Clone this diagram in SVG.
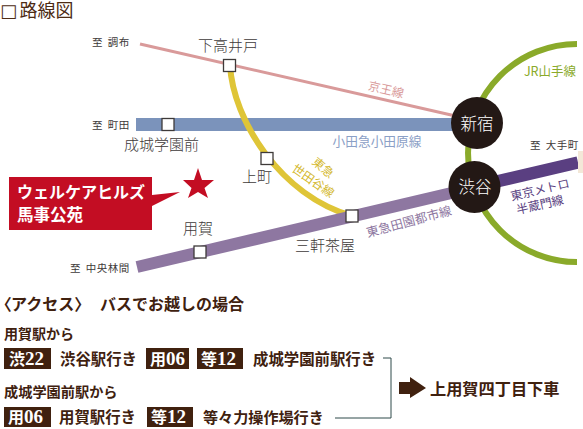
<svg xmlns="http://www.w3.org/2000/svg" width="583" height="429" viewBox="0 0 583 429">
<style>
text{font-family:"Noto Sans CJK JP",sans-serif}
.st{fill:#fff;stroke:#3e3a39;stroke-width:1.3}
.hub{fill:#231815}
.nm{font-size:15px;fill:#3e3a39;font-weight:300}
.to{font-size:10.500px;fill:#3e3a39;letter-spacing:.5px;word-spacing:2px}
.ln{font-size:12px;font-weight:400;text-anchor:middle}
.hb{font-size:16.500px;fill:#fff;font-weight:300;text-anchor:middle}
.b{fill:#40210f}
.bt{font-size:16px;fill:#fff;font-weight:700}
.bt tspan{font-family:"Liberation Serif",serif;font-size:19px}
.d{font-size:15.400px;fill:#40210f;font-weight:700}
.h{fill:#40210f;font-weight:700}
</style>
<text x="0" y="17" font-size="18" fill="#4d2b14" style="font-family:'DejaVu Sans','Noto Sans CJK JP',sans-serif">□<tspan dx="2.500">路線図</tspan></text>

<g id="connectors" fill="none">
<path d="M577,44A109,109 0 0 0 577,262" stroke="#8aaa2a" stroke-width="6"/>
<path d="M140,44L460,117" stroke="#d99a9a" stroke-width="3"/>
<path d="M136,124.500H460" stroke="#7b93bb" stroke-width="13"/>
<path d="M230,65C233,120 280,195 352,216" stroke="#dfc537" stroke-width="6"/>
<path d="M137,267L460,191" stroke="#8e77a1" stroke-width="12"/>
<path d="M490,183L578,162.500" stroke="#5a3f81" stroke-width="12.500"/>
<rect x="578" y="151" width="5" height="22" fill="#f3e8d8"/>
<path d="M383,358H391V418H335" stroke="#2f4a4a" stroke-width="1"/>
</g>

<g id="line-labels">
<text class="ln" x="386" y="94" fill="#d99a9a" transform="rotate(13 386 90)">京王線</text>
<text class="ln" x="377" y="146" fill="#8ba0c6" style="font-size:12.700px">小田急小田原線</text>
<text class="ln" x="550" y="76" fill="#8aaa2a" style="font-size:12.500px">JR山手線</text>
<text class="ln" x="323" y="172" fill="#d4b92f" transform="rotate(40 323 168)">東急</text>
<text class="ln" x="313" y="185" fill="#d4b92f" transform="rotate(35 313 181)">世田谷線</text>
<text class="ln" x="409" y="226" fill="#8e77a1" style="font-size:12.500px" transform="rotate(-15 409 222)">東急田園都市線</text>
<text class="ln" x="540" y="194" fill="#5a3f81" transform="rotate(-13 540 190)">東京メトロ</text>
<text class="ln" x="540" y="209" fill="#5a3f81" transform="rotate(-13 540 205)">半蔵門線</text>
</g>

<g id="dest-labels">
<text class="to" x="92" y="46">至 調布</text>
<text class="to" x="92" y="129">至 町田</text>
<text class="to" x="70" y="272">至 中央林間</text>
<text class="to" x="530" y="149">至 大手町</text>
</g>

<g id="st-shimotakaido"><rect class="st" x="223.500" y="59.500" width="12" height="12"/><text class="nm" x="198" y="51">下高井戸</text></g>
<g id="st-seijo"><rect class="st" x="162" y="118.500" width="12" height="12"/><text class="nm" x="124" y="150">成城学園前</text></g>
<g id="st-kamimachi"><rect class="st" x="261" y="152.500" width="12" height="12"/><text class="nm" x="242" y="182">上町</text></g>
<g id="st-sangenjaya"><rect class="st" x="346" y="210" width="12" height="12"/><text class="nm" x="295" y="251">三軒茶屋</text></g>
<g id="st-yoga"><rect class="st" x="194" y="246" width="12" height="12"/><text class="nm" x="183" y="234">用賀</text></g>
<g id="st-shinjuku"><circle class="hub" cx="477" cy="123" r="26"/><text class="hb" x="477" y="130">新宿</text></g>
<g id="st-shibuya"><circle class="hub" cx="474.500" cy="187" r="26"/><text class="hb" x="475" y="193">渋谷</text></g>

<g id="site">
<polygon points="198,168 202,180 214,180 204.500,188 208,198 198,192 188,198 191.500,188 183,180 194,180" fill="#c30d23"/>
<polygon points="9,177 152,177 152,195 180,192 152,206 152,230 9,230" fill="#c30d23"/>
<text x="17" y="198" font-size="16" fill="#fff" font-weight="700">ウェルケアヒルズ</text>
<text x="17" y="221" font-size="16.500" fill="#fff" font-weight="700">馬事公苑</text>
</g>

<g id="access">
<text class="h" y="310" font-size="16"><tspan x="3" style="font-feature-settings:'palt'">〈</tspan><tspan x="11">アクセス〉</tspan><tspan x="100">バスでお越しの場合</tspan></text>
<text class="h" x="4" y="339" font-size="14">用賀駅から</text>
<text class="h" x="4" y="397" font-size="14.200">成城学園前駅から</text>
</g>

<g id="route-1">
<rect class="b" x="4" y="348" width="47" height="21"/><text class="bt" x="9" y="365">渋<tspan>22</tspan></text>
<text class="d" x="60" y="365">渋谷駅行き</text>
<rect class="b" x="146" y="348" width="43" height="21"/><text class="bt" x="150" y="365">用<tspan>06</tspan></text>
<rect class="b" x="197" y="348" width="46" height="21"/><text class="bt" x="201" y="365">等<tspan>12</tspan></text>
<text class="d" x="253" y="365">成城学園前駅行き</text>
</g>
<g id="route-2">
<rect class="b" x="4" y="407" width="47" height="20"/><text class="bt" x="8" y="423">用<tspan>06</tspan></text>
<text class="d" x="59" y="423">用賀駅行き</text>
<rect class="b" x="147" y="407" width="46" height="20"/><text class="bt" x="151" y="423">等<tspan>12</tspan></text>
<text class="d" x="203" y="423" style="font-size:15.100px">等々力操作場行き</text>
</g>
<g id="destination">
<polygon points="399,382 410,382 410,377 426,388 410,398 410,394 399,394" fill="#40210f"/>
<text class="h" x="430" y="395" font-size="16.200">上用賀四丁目下車</text>
</g>
</svg>
